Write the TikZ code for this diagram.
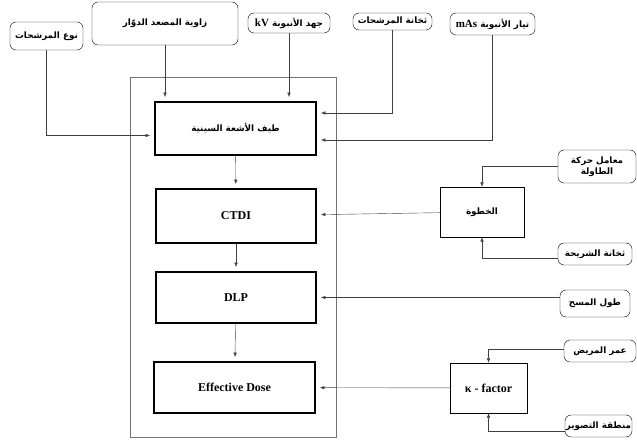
\documentclass[tikz,border=0pt]{standalone}
\usepackage{fontspec}
\setmainfont{Liberation Serif}
\newfontfamily\arabicfont[Script=Arabic]{DejaVu Sans}
\TeXXeTstate=1
\usetikzlibrary{arrows.meta}

\begin{document}
\begin{tikzpicture}[x=1pt,
            y=-1pt,
            >={Latex[length=4.5pt,width=3.5pt]},
            conn/.style={->,draw=black!75,thin,shorten >=4pt},
            mainbox/.style={draw,line width=1.8pt,minimum width=#1,inner sep=0pt},
            sidebox/.style={draw,thin,inner sep=0pt},
            param/.style={draw,thin,rounded corners=6pt,inner sep=0pt,align=center},
            ar/.style={font=\arabicfont\bfseries\fontsize{8.8}{11}\selectfont},
            lat/.style={font=\bfseries\fontsize{12}{14}\selectfont}]

        \useasboundingbox (0,0) rectangle (637,443);

        % outer frame
        \draw[black!55] (130,77) rectangle (336,437);

        % main chain
        \node[mainbox=161pt,minimum height=53pt,ar]  (spec)  at (235.5,128.5) {\beginR طيف الأشعة السينية\endR};
        \node[mainbox=160pt,minimum height=54pt,lat] (ctdi)  at (236,216)     {CTDI};
        \node[mainbox=160pt,minimum height=51pt,lat] (dlp)   at (236,297.5)   {DLP};
        \node[mainbox=161pt,minimum height=51pt,lat] (edose) at (234.5,387.5) {Effective Dose};

        % tube parameters
        \node[param,minimum width=73pt,minimum height=28pt,ar]  (ftype)  at (46.5,36)   {\beginR نوع المرشحات\endR};
        \node[param,minimum width=146pt,minimum height=43pt,ar] (anode)  at (165,23.5)  {\beginR زاوية المصعد الدوّار\endR};
        \node[param,minimum width=82pt,minimum height=20pt,ar]  (kv)     at (289,23)    {\beginR جهد الأنبوبة {\rmfamily\fontsize{11}{12}\selectfont\beginL kV\endL}\endR};
        \node[param,minimum width=79pt,minimum height=17pt,ar]  (fthick) at (392.5,21.5) {\beginR ثخانة المرشحات\endR};
        \node[param,minimum width=85pt,minimum height=22pt,ar]  (mas)    at (492.5,24)  {\beginR تيار الأنبوبة {\rmfamily\fontsize{11}{12}\selectfont\beginL mAs\endL}\endR};

        % pitch
        \node[sidebox,minimum width=84pt,minimum height=50pt,ar] (pitch) at (482,212) {\beginR الخطوة\endR};
        \node[param,minimum width=78pt,minimum height=33pt,ar]   (table) at (597,166.5) {\beginR معامل حركة\endR\\\beginR الطاولة\endR};
        \node[param,minimum width=74pt,minimum height=22pt,ar]   (slice) at (595,254)   {\beginR ثخانة الشريحة\endR};

        % scan length
        \node[param,minimum width=70pt,minimum height=27pt,ar]   (scan)  at (595,303.5) {\beginR طول المسح\endR};

        % k-factor
        \node[sidebox,minimum width=77pt,minimum height=50pt,lat] (kfac)   at (488.5,388) {κ - factor};
        \node[param,minimum width=72pt,minimum height=22pt,ar]    (age)    at (600,351)   {\beginR عمر المريض\endR};
        \node[param,minimum width=67pt,minimum height=22pt,ar]    (region) at (598.5,426) {\beginR منطقة التصوير\endR};

        \draw[conn] (ftype.south) |- ([yshift=-7pt]spec.west);
        \draw[conn] (anode.south) -- (anode.south |- spec.north);
        \draw[conn] (kv.south) -- (kv.south |- spec.north);
        \draw[conn] (fthick.south) |- ([yshift=15.5pt]spec.east);
        \draw[conn] (mas.south) |- ([yshift=-11.5pt]spec.east);

        \draw[conn] (spec) -- (ctdi);
        \draw[conn] (ctdi) -- (dlp);
        \draw[conn] (dlp) -- (edose);

        \draw[conn] (pitch) -- (ctdi);
        \draw[conn,shorten >=0pt] (table.west) -| (pitch.north);
        \draw[conn,shorten >=0pt] ([yshift=-4pt]slice.west) -| (pitch.south);

        \draw[conn] (scan.west |- dlp.east) -- (dlp.east);

        \draw[conn] (kfac) -- (edose);
        \draw[conn,shorten >=0pt] ([yshift=2pt]age.west) -| (kfac.north);
        \draw[conn,shorten >=0pt] ([yshift=-5pt]region.west) -| (kfac.south);

    \end{tikzpicture}
\end{document}
